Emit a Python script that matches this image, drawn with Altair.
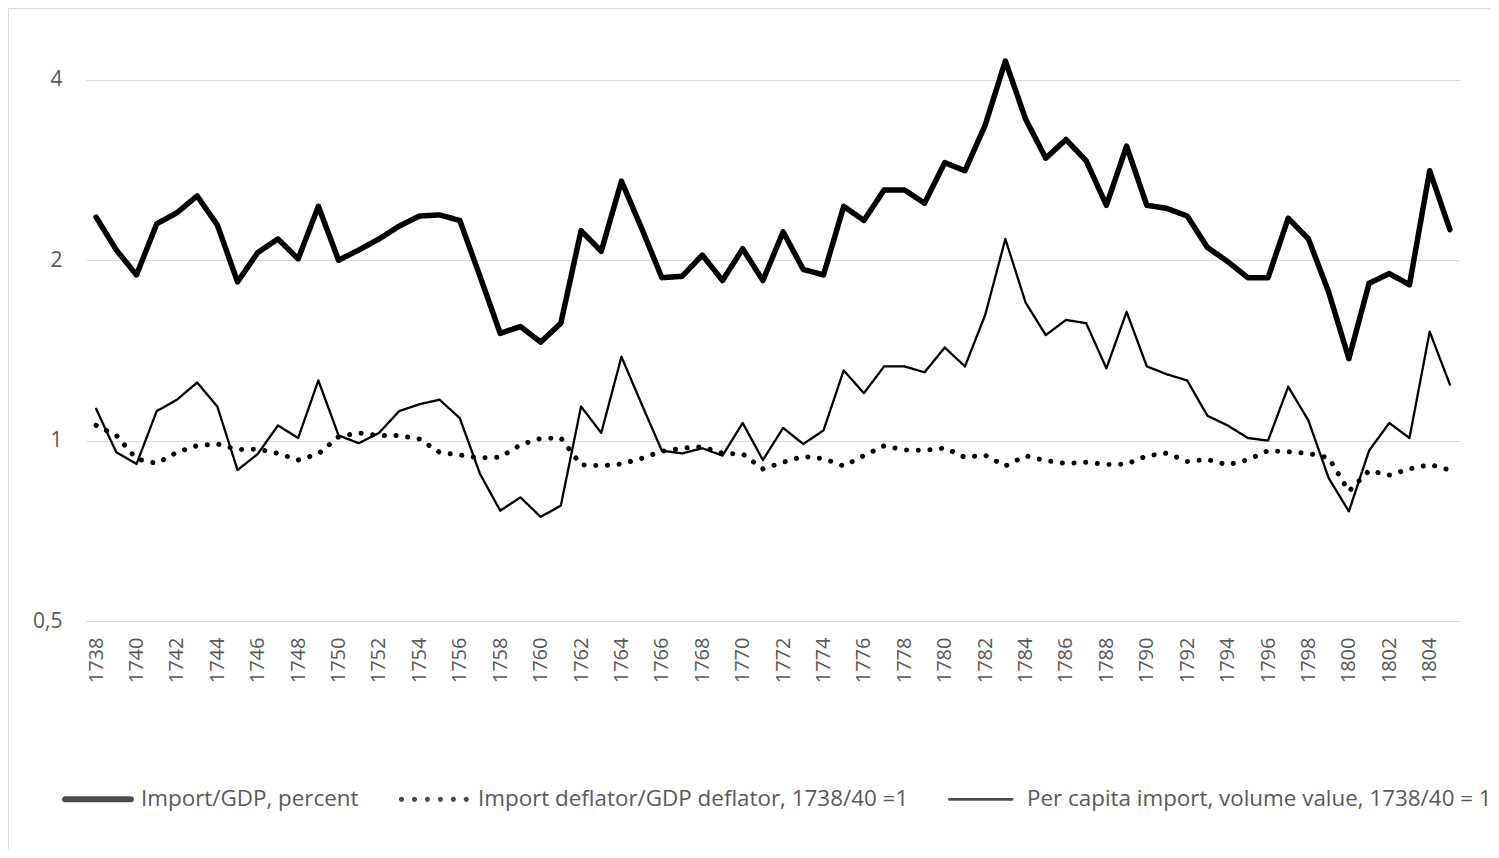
import altair as alt
import pandas as pd

years = list(range(1738, 1806))
tick_years = list(range(1738, 1806, 2))

series_names = [
    "Import/GDP, percent",
    "Import deflator/GDP deflator, 1738/40 =1",
    "Per capita import, volume value, 1738/40 = 1",
]

import_gdp = [2.36, 2.08, 1.89, 2.30, 2.40, 2.56, 2.29, 1.84, 2.06, 2.17, 2.01, 2.46, 2.00, 2.08, 2.17, 2.28, 2.37, 2.38,
              2.33, 1.88, 1.51, 1.55, 1.46, 1.57, 2.24, 2.07, 2.71, 2.26, 1.87, 1.88, 2.04, 1.85, 2.09, 1.85, 2.23, 1.93,
              1.89, 2.46, 2.33, 2.62, 2.62, 2.49, 2.91, 2.82, 3.36, 4.30, 3.44, 2.96, 3.18, 2.93, 2.47, 3.10, 2.47,
              2.44, 2.37, 2.10, 1.99, 1.87, 1.87, 2.35, 2.17, 1.77, 1.37, 1.83, 1.90, 1.82, 2.82, 2.25]

deflator = [1.06, 1.02, 0.932, 0.916, 0.956, 0.981, 0.987, 0.966, 0.968, 0.952, 0.928, 0.95, 1.015, 1.03, 1.02, 1.02, 1.006, 0.956,
            0.946, 0.936, 0.938, 0.984, 1.008, 1.01, 0.911, 0.908, 0.914, 0.934, 0.96, 0.971, 0.977, 0.952, 0.95, 0.897, 0.92, 0.941,
            0.933, 0.907, 0.944, 0.98, 0.965, 0.963, 0.972, 0.938, 0.945, 0.907, 0.943, 0.926, 0.916, 0.92, 0.912, 0.914, 0.943,
            0.953, 0.923, 0.93, 0.911, 0.929, 0.962, 0.958, 0.952, 0.936, 0.823, 0.891, 0.876, 0.897, 0.912, 0.893]

per_capita = [1.13, 0.956, 0.914, 1.12, 1.17, 1.25, 1.14, 0.893, 0.95, 1.06, 1.01, 1.26, 1.02, 0.99, 1.03, 1.12, 1.15, 1.17,
              1.09, 0.88, 0.764, 0.804, 0.746, 0.779, 1.14, 1.03, 1.38, 1.15, 0.962, 0.952, 0.971, 0.944, 1.07, 0.928, 1.05, 0.987,
              1.04, 1.31, 1.20, 1.33, 1.33, 1.30, 1.43, 1.33, 1.62, 2.17, 1.70, 1.50, 1.59, 1.57, 1.32, 1.64, 1.33,
              1.29, 1.26, 1.10, 1.06, 1.01, 1.00, 1.23, 1.08, 0.866, 0.762, 0.962, 1.07, 1.01, 1.52, 1.24]

rows = []
for name, vals in zip(series_names, [import_gdp, deflator, per_capita]):
    for yr, v in zip(years, vals):
        rows.append({"year": yr, "value": v, "series": name})
df = pd.DataFrame(rows)

FONT = "Open Sans"
GRAY_TEXT = "#595959"
GRID = "#d9d9d9"


# legend glyphs (unit-square symbol paths)
def bar_path(x0, x1, h):
    return (f"M{x0 + h:.3f},{-h:.3f}H{x1 - h:.3f}A{h:.3f},{h:.3f} 0 0 1 {x1 - h:.3f},{h:.3f}"
            f"H{x0 + h:.3f}A{h:.3f},{h:.3f} 0 0 1 {x0 + h:.3f},{-h:.3f}Z")


def dots_path(centers, r):
    return "".join(f"M{c - r:.3f},0A{r:.3f},{r:.3f} 0 1 0 {c + r:.3f},0A{r:.3f},{r:.3f} 0 1 0 {c - r:.3f},0Z"
                   for c in centers)


legend_shapes = [
    bar_path(-1.0, 1.0, 0.085),
    dots_path([-0.93, -0.57, -0.21, 0.15, 0.51, 0.87], 0.072),
    bar_path(-1.0, 0.82, 0.038),
]

# line styles (domain listed in a different order so this scale keeps its own, hidden legend)
line_domain = [series_names[1], series_names[0], series_names[2]]
line_widths = [5.0, 5.5, 2.3]
line_dashes = [[0.1, 11.6], [1, 0], [1, 0]]

y_enc = alt.Y("value:Q",
              scale=alt.Scale(type="log", base=2, domain=[0.5, 4.4], nice=False),
              axis=alt.Axis(values=[0.5, 1, 2, 4], labelExpr="replace(datum.value + '', '.', ',')",
                            domain=False, ticks=False, grid=True, gridColor=GRID, gridWidth=1,
                            labelPadding=24, labelFontSize=21, labelFont=FONT, labelColor=GRAY_TEXT,
                            title=None))
x_enc = alt.X("year:Q",
              scale=alt.Scale(domain=[1737.5, 1805.5], nice=False, zero=False),
              axis=alt.Axis(values=tick_years, format="d", labelAngle=-90, ticks=False, grid=False,
                            domainColor=GRID, domainWidth=1, labelPadding=16, labelFontSize=20,
                            labelFont=FONT, labelColor=GRAY_TEXT, title=None, labelOverlap=False))

lines = alt.Chart(df).mark_line(color="black", strokeCap="round", strokeJoin="round").encode(
    x=x_enc,
    y=y_enc,
    strokeWidth=alt.StrokeWidth("series:N",
                                scale=alt.Scale(type="ordinal", domain=line_domain, range=line_widths),
                                legend=None),
    strokeDash=alt.StrokeDash("series:N",
                              scale=alt.Scale(domain=line_domain, range=line_dashes),
                              legend=None),
)

legend_layer = alt.Chart(df).transform_filter("false").mark_point(
    filled=True, color="black", strokeWidth=0
).encode(
    x=alt.X("year:Q"),
    y=alt.Y("value:Q"),
    shape=alt.Shape("series:N",
                    scale=alt.Scale(domain=series_names, range=legend_shapes),
                    legend=alt.Legend(
                        title=None, orient="none", legendX=-24, legendY=708, direction="horizontal",
                        columns=3, symbolSize=5184, symbolFillColor="black", symbolStrokeWidth=0,
                        labelFontSize=22.4, labelFont=FONT, labelColor=GRAY_TEXT,
                        labelLimit=1000, columnPadding=39, labelOffset=7, padding=0)),
)

frame = alt.Chart(pd.DataFrame({"a": [0]})).mark_rect(fillOpacity=0, stroke=GRID, strokeWidth=1).encode(
    x=alt.value(-77.5), y=alt.value(-46.5), x2=alt.value(3000), y2=alt.value(3000)
)

chart = alt.layer(frame, lines, legend_layer).properties(
    width=1374, height=566,
    autosize=alt.AutoSizeParams(type="none"),
    padding={"left": 78, "top": 47, "right": 31, "bottom": 228},
).configure_view(stroke=None)

chart.save("out.html", embed_options={"renderer": "svg", "actions": False})
